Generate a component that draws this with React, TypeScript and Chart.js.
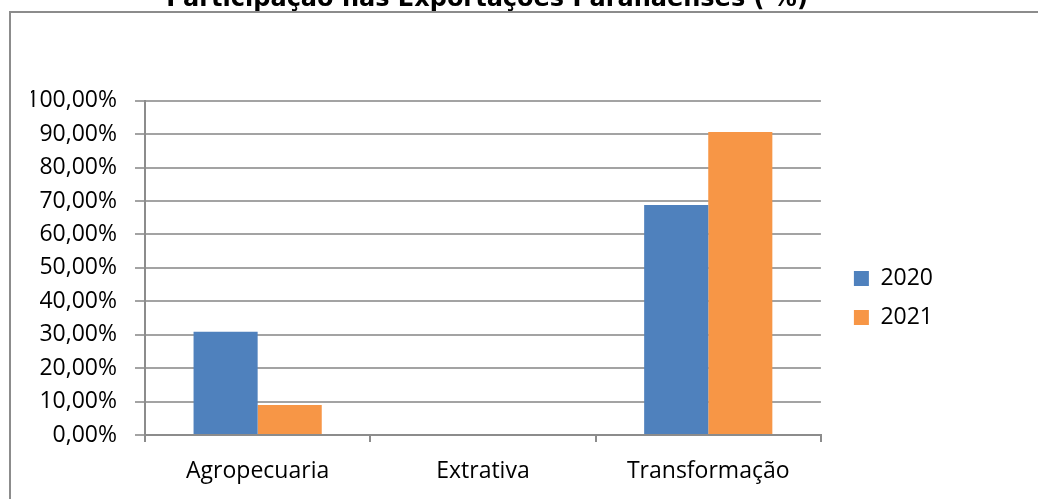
import React, { useEffect, useRef } from "react";
import { Chart, registerables } from "chart.js";

Chart.register(...registerables);

const categories = ["Agropecuaria", "Extrativa", "Transformação"];
const seriesLabels = ["2020", "2021"];
const values2020 = [30.9, 0, 68.8];
const values2021 = [9.0, 0, 90.6];
const yTickLabels = [
  "0,00%",
  "10,00%",
  "20,00%",
  "30,00%",
  "40,00%",
  "50,00%",
  "60,00%",
  "70,00%",
  "80,00%",
  "90,00%",
  "100,00%",
];
const titleText = "Participação nas Exportações Paranaenses ( %)";

const CANVAS_W = 1038;
const CANVAS_H = 656;
const OFFSET_Y = 30;

export default function App() {
  const ref = useRef<HTMLCanvasElement | null>(null);

  useEffect(() => {
    document.body.style.margin = "0";
    const canvas = ref.current;
    if (!canvas) return;
    const grid = "#a3a3a3";
    const axis = "#8c8c8c";
    const chart = new Chart(canvas, {
      type: "bar",
      data: {
        labels: categories,
        datasets: [
          {
            label: seriesLabels[0],
            data: values2020,
            backgroundColor: "#4f81bd",
            borderWidth: 0,
            categoryPercentage: 0.569,
            barPercentage: 1,
          },
          {
            label: seriesLabels[1],
            data: values2021,
            backgroundColor: "#f79646",
            borderWidth: 0,
            categoryPercentage: 0.569,
            barPercentage: 1,
          },
        ],
      },
      options: {
        responsive: false,
        animation: false,
        devicePixelRatio: 1,
        layout: { padding: { left: 31, right: 95, top: 0, bottom: 0 } },
        plugins: {
          title: {
            display: true,
            text: titleText,
            color: "#000",
            font: { family: "DejaVu Sans", weight: "bold", size: 24, lineHeight: 1.2 },
            padding: { top: 15, bottom: 86.9 },
          },
          legend: {
            display: true,
            position: "right",
            labels: {
              color: "#000",
              font: { family: "Open Sans", size: 23 },
              boxWidth: 15,
              boxHeight: 15,
              padding: 16,
            },
          },
          tooltip: { enabled: false },
        },
        scales: {
          x: {
            offset: true,
            grid: {
              display: true,
              drawOnChartArea: false,
              drawTicks: true,
              tickLength: 7,
              color: axis,
              lineWidth: 2,
            },
            border: { display: true, color: axis, width: 2 },
            ticks: {
              color: "#000",
              font: { family: "Open Sans", size: 23 },
              padding: 16,
              maxRotation: 0,
              minRotation: 0,
            },
            afterFit: (s: any) => {
              s.height = 191;
            },
          },
          y: {
            min: 0,
            max: 100,
            grid: {
              color: grid,
              lineWidth: 2,
              tickLength: 10,
              drawTicks: true,
            },
            border: { display: true, color: axis, width: 2 },
            ticks: {
              stepSize: 10,
              color: "#000",
              font: { family: "Open Sans", size: 23 },
              padding: 18,
              callback: (_v: any, i: number) => yTickLabels[i],
            },
            afterFit: (s: any) => {
              s.width = 114;
            },
          },
          y2: {
            position: "right",
            display: true,
            grid: { display: false },
            border: { display: false },
            ticks: { display: false },
            afterFit: (s: any) => {
              s.width = 17;
            },
          },
        },
      },
    });
    return () => chart.destroy();
  }, []);

  return (
    <div
      style={{
        position: "fixed",
        left: 0,
        top: 0,
        width: 1038,
        height: 499,
        overflow: "hidden",
        background: "#fff",
      }}
    >
      <div
        style={{
          position: "absolute",
          left: 9,
          top: 11,
          width: 1100,
          height: 700,
          border: "2px solid #8c8c8c",
          boxSizing: "border-box",
        }}
      />
      <canvas
        ref={ref}
        width={CANVAS_W}
        height={CANVAS_H}
        style={{
          position: "absolute",
          left: 0,
          top: -OFFSET_Y,
          width: CANVAS_W,
          height: CANVAS_H,
        }}
      />
    </div>
  );
}
